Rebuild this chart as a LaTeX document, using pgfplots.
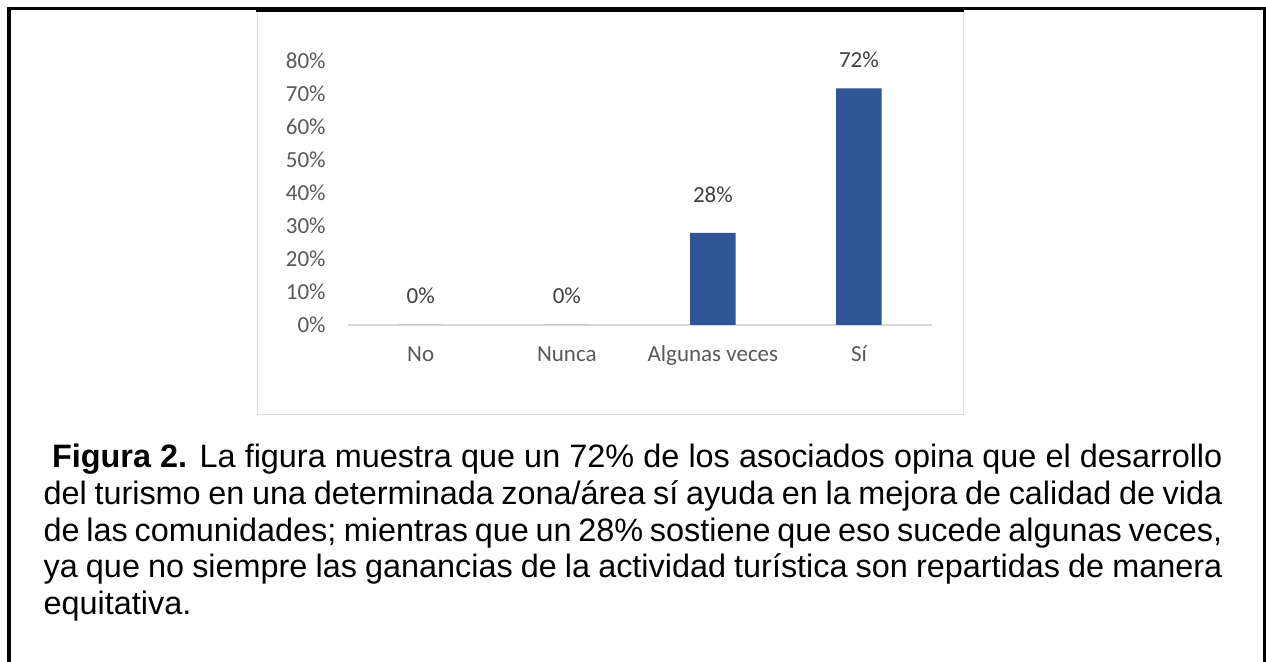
\documentclass[border=0pt]{standalone}
\usepackage{fontspec}
\setmainfont{Liberation Sans}
\newfontfamily\calibri{Carlito}
\usepackage{pgfplots}
\pgfplotsset{compat=1.18}
\definecolor{barblue}{HTML}{2F5597}
\definecolor{ticktxt}{HTML}{595959}
\definecolor{lbltxt}{HTML}{404040}
\definecolor{axgray}{HTML}{D9D9D9}

\begin{document}
\begin{tikzpicture}
\useasboundingbox (0,0) rectangle (633pt,331pt);
\fill[white] (0,0) rectangle (633pt,331pt);
% chart frame
\draw[axgray, line width=0.75pt] (128.85pt,123.75pt) rectangle (481.75pt,326pt);
% outer black frame
\fill[black] (3.65pt,0pt) rectangle (5.35pt,327.35pt);
\fill[black] (631.35pt,0pt) rectangle (632.85pt,327.35pt);
\fill[black] (3.65pt,326pt) rectangle (632.85pt,327.35pt);
\fill[black] (128pt,324.75pt) rectangle (481.75pt,327.35pt);

\begin{axis}[
  at={(173.85pt,168.5pt)}, anchor=south west,
  scale only axis, width=292.15pt, height=132.15pt,
  xmin=-0.5, xmax=3.5, ymin=0, ymax=80,
  axis x line=bottom, axis y line=left,
  x axis line style={draw=axgray, line width=0.75pt, -},
  y axis line style={draw=none},
  major tick length=0pt,
  xtick={0,1,2,3},
  xticklabels={No, Nunca, Algunas veces, Sí},
  ytick={0,10,20,30,40,50,60,70,80},
  yticklabels={0\%,10\%,20\%,30\%,40\%,50\%,60\%,70\%,80\%},
  yticklabel style={font=\calibri\fontsize{11.5}{13}\selectfont, text=ticktxt, anchor=east, inner sep=0pt, xshift=-10.85pt},
  xticklabel style={font=\calibri\fontsize{11.5}{13}\selectfont, text=ticktxt, anchor=base, inner sep=0pt, yshift=-18.5pt},
  clip=false,
]
\addplot[ybar, bar width=22.75pt, fill=barblue, draw=none] coordinates {(0,0) (1,0) (2,27.9) (3,71.6)};
\addplot[draw=none, mark=none, nodes near coords, point meta=explicit symbolic,
  nodes near coords style={anchor=center, inner sep=0pt, font=\calibri\fontsize{11.5}{13}\selectfont, text=lbltxt}]
  coordinates {(0,8.8) [0\%] (1,8.8) [0\%] (2,39.35) [28\%] (3,80.4) [72\%]};
\end{axis}

\node[anchor=base west, inner sep=0pt, text width=589.35pt, align=justify, font=\fontsize{16.2}{18.3}\selectfont] at (21.65pt,97pt)
{\hspace*{4.2pt}\textbf{Figura 2.} La figura muestra que un 72\% de los asociados opina que el desarrollo\linebreak
del turismo en una determinada zona/área sí ayuda en la mejora de calidad de vida\linebreak
de las comunidades; mientras que un 28\% sostiene que eso sucede algunas veces,\linebreak
ya que no siempre las ganancias de la actividad turística son repartidas de manera\linebreak
equitativa.};
\end{tikzpicture}
\end{document}
